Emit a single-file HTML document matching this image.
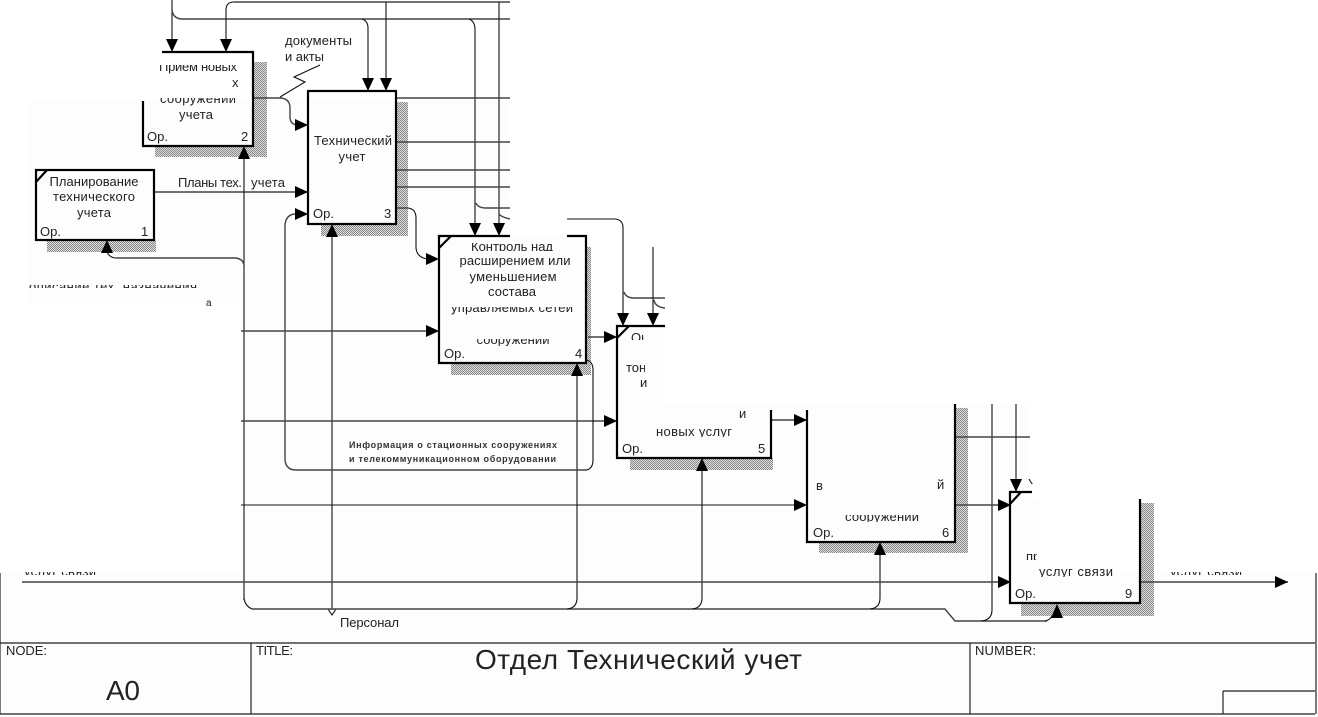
<!DOCTYPE html>
<html><head><meta charset="utf-8"><style>
html,body{margin:0;padding:0;background:#fff;width:1318px;height:717px;overflow:hidden}
svg{display:block}
text{font-family:"Liberation Sans",sans-serif;font-size:13px;fill:#222}
.c{text-anchor:middle}
.l{fill:none;stroke:#444;stroke-width:1.4}
.v{fill:none;stroke:#111;stroke-width:1.1}
.b{fill:none;stroke:#000;stroke-width:2.2}
</style></head><body>
<svg width="1318" height="717" viewBox="0 0 1318 717" xmlns="http://www.w3.org/2000/svg">
<defs>
<pattern id="h" width="2" height="2" patternUnits="userSpaceOnUse"><rect width="2" height="2" fill="#dedede"/><rect width="1" height="1" fill="#888"/><rect x="1" y="1" width="1" height="1" fill="#888"/></pattern>
<marker id="a" markerUnits="userSpaceOnUse" markerWidth="13" markerHeight="12" refX="13" refY="6" orient="auto"><path d="M0 0L13 6L0 12Z" fill="#000"/></marker>
<clipPath id="c1"><rect x="160" y="65" width="78" height="10"/></clipPath>
<clipPath id="c2"><rect x="231" y="75" width="12" height="14"/></clipPath>
<clipPath id="c3"><rect x="160" y="98" width="75" height="8"/></clipPath>
<clipPath id="c4"><rect x="470" y="243" width="85" height="8"/></clipPath>
<clipPath id="c5"><rect x="445" y="307" width="135" height="9"/></clipPath>
<clipPath id="c6"><rect x="470" y="339" width="80" height="7"/></clipPath>
<clipPath id="c7"><rect x="630" y="331" width="16" height="9"/></clipPath>
<clipPath id="c8"><rect x="650" y="429" width="90" height="8"/></clipPath>
<clipPath id="c9"><rect x="840" y="515" width="80" height="7"/></clipPath>
<clipPath id="c10"><rect x="1038" y="568" width="75" height="9"/></clipPath>
<clipPath id="c11"><rect x="28" y="285" width="170" height="3"/></clipPath>
<clipPath id="c12"><rect x="22" y="572" width="75" height="3"/></clipPath>
<clipPath id="c13"><rect x="1165" y="572" width="80" height="3"/></clipPath>
<clipPath id="c14"><rect x="625" y="362" width="20" height="10"/></clipPath>
<clipPath id="c15"><rect x="1025" y="553" width="12" height="7"/></clipPath>
<clipPath id="c16"><rect x="1028" y="478" width="5" height="6"/></clipPath>
</defs>
<path d="M30 100H510V236H590V320H665V405H1030V500H1040V573H1318V717H0V573H240V305H30Z" fill="#fdfdfd"/>

<!-- shadows -->
<path d="M253 62H267V157H155V146H253Z" fill="url(#h)"/>
<path d="M47 240H156V252H47Z" fill="url(#h)"/>
<path d="M396 102H408V236H321V224H396Z" fill="url(#h)"/>
<path d="M586 247H591V375H451V363H586Z" fill="url(#h)"/>
<path d="M630 458H773V470H630Z" fill="url(#h)"/>
<path d="M955 408H968V553H819V542H955Z" fill="url(#h)"/>
<path d="M1140 503H1154V616H1021V603H1140Z" fill="url(#h)"/>

<!-- connectors -->
<path class="v" d="M172 0V52" marker-end="url(#a)"/>
<path class="l" d="M172 10Q173 18 181 19H510"/>
<path class="l" d="M234 2H510"/>
<path class="v" d="M234 2Q226 2 226 10V52" marker-end="url(#a)"/>
<path class="v" d="M362 19Q368 21 368 28V91" marker-end="url(#a)"/>
<path class="v" d="M386 2V91" marker-end="url(#a)"/>
<path class="v" d="M469 19Q475 21 475 30V236" marker-end="url(#a)"/>
<path class="v" d="M499 2V236" marker-end="url(#a)"/>
<path class="l" d="M476 203Q478 208 486 208H510"/>
<path class="l" d="M499 214Q501 217 510 219"/>
<path class="l" d="M397 98H510M397 142H510M397 170H510M397 187H510"/>
<path class="v" d="M397 208H408Q416 209 416 218V248Q417 258 428 259H439" marker-end="url(#a)"/>
<path class="l" d="M253 98H281Q290 99 290 108V118Q291 125 298 125H308" marker-end="url(#a)"/>
<path class="v" d="M280 97L305 82L294 77L320 65"/>
<path class="l" d="M155 192H308" marker-end="url(#a)"/>
<path class="v" d="M244 600V146" marker-end="url(#a)"/>
<path class="l" d="M116 258H236Q243 259 244 265"/>
<path class="v" d="M116 258Q110 258 107 252V240" marker-end="url(#a)"/>
<path class="v" d="M332 609V224" marker-end="url(#a)"/>
<path class="v" d="M328 609L332 615L336 609"/>
<path class="v" d="M244 598Q245 606 252 609"/>
<path class="l" d="M252 609H945L955 621H1047"/>
<path class="v" d="M567 609Q577 608 577 598V363" marker-end="url(#a)"/>
<path class="v" d="M692 609Q702 608 702 598V458" marker-end="url(#a)"/>
<path class="v" d="M870 609Q880 608 880 598V542" marker-end="url(#a)"/>
<path class="v" d="M981 621Q992 620 992 610V404"/>
<path class="v" d="M1045 621Q1050 620 1052 616"/>
<path d="M1057 604L1051 618H1063Z" fill="#000"/>
<path class="l" d="M241 331H439" marker-end="url(#a)"/>
<path class="l" d="M241 421H617" marker-end="url(#a)"/>
<path class="v" d="M241 505H807" marker-end="url(#a)"/>
<path class="l" d="M22 582H1011" marker-end="url(#a)"/>
<path class="l" d="M1140 582H1288" marker-end="url(#a)"/>
<path class="l" d="M588 337H617" marker-end="url(#a)"/>
<path class="l" d="M771 420H807" marker-end="url(#a)"/>
<path class="l" d="M955 505H1011" marker-end="url(#a)"/>
<path class="l" d="M955 437H1030"/>
<path class="v" d="M1016 404V492" marker-end="url(#a)"/>
<path class="v" d="M586 360Q593 361 593 370V460Q593 468 587 470"/>
<path class="l" d="M587 470H296Q286 470 285 460V225Q286 214 296 214H308" marker-end="url(#a)"/>
<path class="v" d="M567 219H614Q623 219 623 228V326" marker-end="url(#a)"/>
<path class="l" d="M624 292Q626 298 634 298H665"/>
<path class="v" d="M653 247V326" marker-end="url(#a)"/>
<path class="l" d="M654 300Q655 307 665 308"/>

<!-- boxes -->
<path class="b" d="M162 52H253V146H143V101"/>
<rect class="b" x="36" y="170" width="118" height="70"/>
<path class="b" d="M36 182L47 170"/>
<rect class="b" x="308" y="91" width="88" height="133"/>
<path class="b" d="M510 236H439V363H586V236H567"/>
<path class="b" d="M439 248L451 236"/>
<path class="b" d="M665 326H617V458H771V410"/>
<path class="b" d="M617 338L629 326"/>
<path class="b" d="M807 410V542H955V404"/>
<path class="b" d="M1032 492H1010V603H1140V499" stroke-width="1.8"/>
<path class="b" d="M1010 504L1021 492" stroke-width="1.8"/>

<!-- labels -->
<text class="c" x="198" y="71" clip-path="url(#c1)" textLength="78">Прием новых</text>
<text x="232" y="87" clip-path="url(#c2)">х</text>
<text class="c" x="198" y="103" clip-path="url(#c3)" textLength="76">сооружений</text>
<text class="c" x="196" y="119" textLength="34">учета</text>
<text x="147" y="141">Ор.</text><text x="241" y="141">2</text>
<text class="c" x="94" y="186" textLength="89">Планирование</text>
<text class="c" x="94" y="201" textLength="82">технического</text>
<text class="c" x="94" y="217" textLength="34">учета</text>
<text x="40" y="236">Ор.</text><text x="141" y="236">1</text>
<text x="178" y="187" textLength="64">Планы тех.</text><text x="251" y="187" textLength="34">учета</text>
<text x="285" y="45" textLength="67">документы</text>
<text x="285" y="61" textLength="39">и акты</text>
<text class="c" x="353" y="145" textLength="78">Технический</text>
<text class="c" x="352" y="161" textLength="27">учет</text>
<text x="313" y="218">Ор.</text><text x="384" y="218">3</text>
<text class="c" x="512" y="251" clip-path="url(#c4)" textLength="82">Контроль над</text>
<text class="c" x="515" y="265" textLength="111">расширением или</text>
<text class="c" x="513" y="281" textLength="87">уменьшением</text>
<text class="c" x="512" y="296" textLength="48">состава</text>
<text class="c" x="512" y="312" clip-path="url(#c5)" textLength="122">управляемых сетей</text>
<text class="c" x="513" y="344" clip-path="url(#c6)" textLength="73">сооружений</text>
<text x="444" y="358">Ор.</text><text x="575" y="358">4</text>
<text x="631" y="342" clip-path="url(#c7)">Оценка</text>
<text x="626" y="372" clip-path="url(#c14)">тон</text>
<text x="640" y="387">и</text><text x="739" y="418">и</text>
<text class="c" x="694" y="436" clip-path="url(#c8)" textLength="76">новых услуг</text>
<text x="622" y="453">Ор.</text><text x="758" y="453">5</text>
<text x="816" y="490">в</text><text x="937" y="489">й</text>
<text class="c" x="882" y="521" clip-path="url(#c9)" textLength="74">сооружений</text>
<text x="813" y="537">Ор.</text><text x="942" y="537">6</text>
<text x="1028" y="488" clip-path="url(#c16)">У</text>
<text x="1026" y="561" clip-path="url(#c15)">пр</text>
<text class="c" x="1076" y="576" clip-path="url(#c10)" textLength="74">услуг связи</text>
<text x="1015" y="598">Ор.</text><text x="1125" y="598">9</text>
<text class="c" x="113" y="291" clip-path="url(#c11)" textLength="168">описание тех. назначения</text>
<text x="206" y="306" style="font-size:10px">а</text>
<text x="24" y="576" clip-path="url(#c12)" textLength="72">услуг связи</text>
<text x="1170" y="576" clip-path="url(#c13)" textLength="72">услуг связи</text>
<text x="349" y="448" style="font-size:9px;font-weight:bold;fill:#333" textLength="208">Информация о стационных сооружениях</text>
<text x="349" y="462" style="font-size:9px;font-weight:bold;fill:#333" textLength="207">и телекоммуникационном оборудовании</text>
<text x="340" y="627" textLength="59">Персонал</text>

<!-- frame -->
<path class="l" d="M0 643H1315M0 714H1315M1223 691H1315"/>
<path class="v" d="M0 573V714M251 643V714M970 643V714M1223 691V714M1316 573V714"/>
<text x="6" y="655" textLength="41">NODE:</text>
<text x="256" y="655" textLength="37">TITLE:</text>
<text x="975" y="655" textLength="61">NUMBER:</text>
<text x="106" y="700" style="font-size:28px" textLength="34">A0</text>
<text x="475" y="669" style="font-size:28px" textLength="327">Отдел Технический учет</text>
</svg>
</body></html>
